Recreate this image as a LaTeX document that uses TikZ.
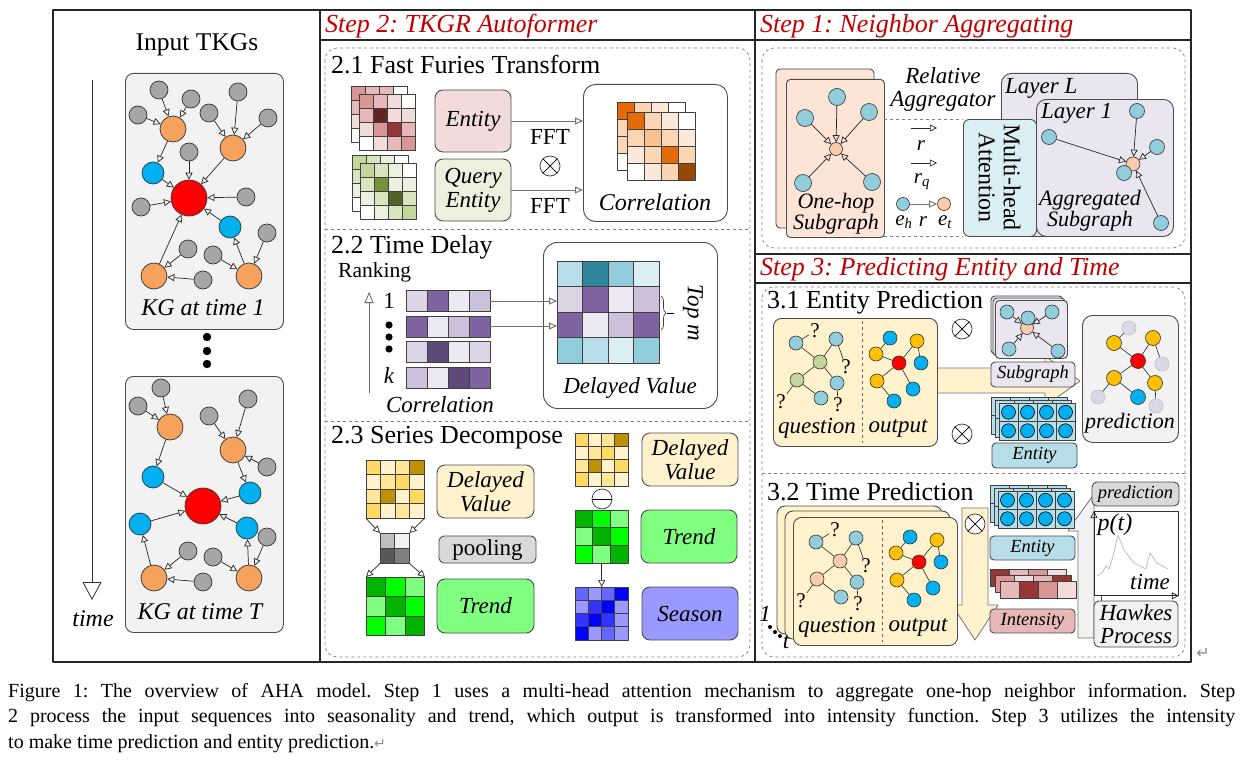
\documentclass[tikz,border=0pt]{standalone}
\usepackage{fontspec}
\setmainfont{Liberation Serif}
\newfontfamily\djv{DejaVu Sans}
\usetikzlibrary{arrows.meta,decorations.pathreplacing,calc}
\frenchspacing
\newcommand\fsz[2]{\fontsize{#1}{#2}\selectfont}
% colours
\definecolor{hdred}{HTML}{C00000}
\definecolor{kgG}{HTML}{A6A6A6}
\definecolor{kgO}{HTML}{F4A25C}
\definecolor{kgB}{HTML}{00B0F0}
\definecolor{kgR}{HTML}{FF0000}
\definecolor{kgBg}{HTML}{F2F2F2}
\definecolor{rA}{HTML}{D99694}\definecolor{rB}{HTML}{E6B8B7}\definecolor{rC}{HTML}{F2DCDB}\definecolor{rD}{HTML}{632523}\definecolor{rE}{HTML}{953734}
\definecolor{gA}{HTML}{C3D69B}\definecolor{gB}{HTML}{D7E4BD}\definecolor{gC}{HTML}{EBF1DE}\definecolor{gD}{HTML}{76923C}\definecolor{gE}{HTML}{4F6228}
\definecolor{oA}{HTML}{E36C09}\definecolor{oB}{HTML}{FCD5B4}\definecolor{oC}{HTML}{FDE9D9}\definecolor{oD}{HTML}{FAC090}\definecolor{oE}{HTML}{974806}
\definecolor{pA}{HTML}{CCC0DA}\definecolor{pB}{HTML}{8064A2}\definecolor{pC}{HTML}{EDE9F3}\definecolor{pD}{HTML}{5F497A}\definecolor{pE}{HTML}{DCD5E6}
\definecolor{tA}{HTML}{B7DEE8}\definecolor{tB}{HTML}{31859C}\definecolor{tC}{HTML}{92CDDC}\definecolor{tD}{HTML}{DAEEF3}
\definecolor{yA}{HTML}{FFD966}\definecolor{yB}{HTML}{FFF2CC}\definecolor{yC}{HTML}{FFE699}\definecolor{yD}{HTML}{BF9000}
\definecolor{nA}{HTML}{00B400}\definecolor{nB}{HTML}{00FF00}\definecolor{nC}{HTML}{80FF80}
\definecolor{sA}{HTML}{6666FF}\definecolor{sB}{HTML}{9999FF}\definecolor{sC}{HTML}{3333FF}\definecolor{sD}{HTML}{0000FF}
\definecolor{kA}{HTML}{BFBFBF}\definecolor{kB}{HTML}{F2F2F2}\definecolor{kC}{HTML}{595959}\definecolor{kD}{HTML}{808080}\definecolor{kE}{HTML}{D9D9D9}
\definecolor{peach}{HTML}{F8CBAD}\definecolor{peachbg}{HTML}{FCE4D6}\definecolor{lav}{HTML}{EAE6F0}
\definecolor{gold}{HTML}{FFC000}\definecolor{lavn}{HTML}{DCD8E8}
% grid of coloured cells
\newcommand\cellgrid[5]{%
  \foreach \rw [count=\ii from 0] in {#5} {%
    \foreach \cc [count=\jj from 0] in \rw {%
      \draw[cellb, fill=\cc] ({#1+\jj*#3},{#2+\ii*#4}) rectangle ++(#3,#4);
    }%
  }%
}
% stacked entity block
\newcommand\entgrid[2]{%
  \cellgrid{#1-8}{#2-6}{19}{18.5}{{tA,tA,tA,tA},{tA,tA,tA,tA}}
  \cellgrid{#1-4}{#2-3}{19}{18.5}{{tA,tA,tA,tA},{tA,tA,tA,tA}}
  \cellgrid{#1}{#2}{19}{18.5}{{tA,tA,tA,tA},{tA,tA,tA,tA}}
  \foreach \ii in {0,1} {\foreach \jj in {0,...,3} {\draw[fill=kgB, line width=0.6pt] ({#1+9.5+\jj*19},{#2+9.25+\ii*18.5}) circle (7pt);}}
}
% circled times
\newcommand\otm[3]{\node[oc] (#1) at (#2,#3) {}; \draw[line width=0.7pt] (#1.north west) -- (#1.south east) (#1.north east) -- (#1.south west);}
% question / output panel
\newcommand\qograph[4]{%
\begin{scope}[shift={(#2,#3)}]
\node[box, fill=yB, anchor=north west, minimum width=164, minimum height=128] (#1box) at (0,0) {};
\draw[dashed, draw=black!60, line width=0.6pt] (89,3) -- (89,125);
\node[sn, fill=tC] (#1a1) at (23,25) {};
\node[sn, fill=tC] (#1a2) at (63,21) {};
\node[sn, fill=#4] (#1c1) at (47,44) {};
\node[sn, fill=#4] (#1c2) at (24,62) {};
\node[sn, fill=tC] (#1a3) at (64,65) {};
\node[sn, fill=tC] (#1a4) at (48,80) {};
\node[qm] (#1q1) at (42,13) {?};
\node[qm] (#1q2) at (73,49) {?};
\node[qm] (#1q3) at (8,84) {?};
\node[qm] (#1q4) at (65,87) {?};
\draw[ln] (#1a1) -- (#1c1) (#1a2) -- (#1c1) (#1c1) -- (#1c2) (#1c1) -- (#1a3) (#1c2) -- (#1a4) (#1a1) -- (#1q1) (#1a2) -- (#1q2) (#1c2) -- (#1q3) (#1a3) -- (#1q4);
\node[sn, fill=kgR] (#1R) at (126,45) {};
\node[sn, fill=kgB] (#1b1) at (117,20) {};
\node[sn, fill=gold] (#1y1) at (103,36) {};
\node[sn, fill=gold] (#1y2) at (144,23) {};
\node[sn, fill=kgB] (#1b2) at (148,45) {};
\node[sn, fill=gold] (#1y3) at (104,63) {};
\node[sn, fill=kgB] (#1b3) at (140,71) {};
\node[sn, fill=kgB] (#1b4) at (121,83) {};
\draw[ln] (#1b1) -- (#1y1) (#1y1) -- (#1R) (#1R) -- (#1y2) (#1y2) -- (#1b2) (#1R) -- (#1y3) (#1y3) -- (#1b4) (#1R) -- (#1b3);
\node[lab] (#1ql) at (44,110) {question};
\node[lab] (#1ol) at (125,110) {output};
\end{scope}}
\begin{document}
\begin{tikzpicture}[x=1pt,y=-1pt, line join=round,
  frame/.style={draw=black!85, line width=1.3pt},
  cellb/.style={draw=black!75, line width=0.8pt},
  ar/.style={-{Triangle[open,length=7pt,width=7pt]}, line width=0.7pt, draw=black!85},
  gar/.style={-{Triangle[open,length=8pt,width=7pt]}, line width=1pt, draw=black!55},
  ln/.style={line width=0.6pt, draw=black!85},
  ngray/.style={circle, draw=black!80, line width=0.7pt, fill=kgG, minimum size=18pt, inner sep=0pt},
  norange/.style={ngray, fill=kgO, minimum size=26pt},
  nblue/.style={ngray, fill=kgB, minimum size=22pt},
  nred/.style={ngray, fill=kgR, minimum size=36pt},
  sn/.style={circle, draw=black!80, line width=0.6pt, minimum size=14pt, inner sep=0pt},
  oc/.style={circle, draw=black!80, fill=white, line width=0.7pt, minimum size=20pt, inner sep=0pt},
  box/.style={draw=black!70, line width=0.9pt, rounded corners=8, inner sep=0pt},
  mat/.style={inner sep=0pt, anchor=north west},
  dsh/.style={draw=black!50, dashed, line width=0.7pt},
  bigar/.style={fill=yB, draw=black!55, line width=0.8pt},
  hdr/.style={font={\fsz{26}{28}\itshape}, text=hdred, inner sep=0pt, anchor=west},
  ttl/.style={font={\fsz{26}{28}}, inner sep=0pt, anchor=west},
  lab/.style={font={\fsz{23}{24}\itshape}, inner sep=1pt, align=center},
  slab/.style={font={\fsz{18.5}{20}\itshape}, inner sep=0pt},
  qm/.style={font={\fsz{21}{22}}, inner sep=1pt}
]
\useasboundingbox (0,0) rectangle (1240,760);
\fill[white] (0,0) rectangle (1240,760);

% ---------------- frame
\draw[frame] (53,10) rectangle (1191,662);
\draw[frame] (320,10) -- (320,662);
\draw[frame] (755,10) -- (755,662);
\draw[frame] (320,40) -- (1191,40);
\draw[frame] (755,254) -- (1191,254);
\draw[frame] (755,283) -- (1191,283);
\node[hdr] (h2) at (325,26) {Step 2: TKGR Autoformer};
\node[hdr] (h1) at (760,26) {Step 1: Neighbor Aggregating};
\node[hdr] (h3) at (760,269) {Step 3: Predicting Entity and Time};

% ---------------- left panel
\node[font=\fsz{25.5}{27}] (inTKG) at (197,45) {Input TKGs};
\coordinate (tTop) at (92,80); \coordinate (tBot) at (92,600);
\draw[line width=0.8pt, draw=black!80, -{Triangle[open,length=18pt,width=19pt]}] (tTop) -- (tBot);
\node[font={\fsz{24}{26}\itshape}] (timeL) at (93,619) {time};
\node[box, fill=kgBg, minimum width=158, minimum height=256, anchor=north west] (kg1box) at (125,73) {};
\node[box, fill=kgBg, minimum width=158, minimum height=256, anchor=north west] (kg2box) at (125,376) {};
\fill (207,337) circle (4.2pt) (207,351) circle (4.2pt) (207,364) circle (4.2pt);

\foreach \nm/\st/\x/\y in {k1g1/ngray/159/90, k1g2/ngray/191/99, k1g3/ngray/138/115, k1O1/norange/173/129,
  k1g4/ngray/238/92, k1g5/ngray/209/113, k1g6/ngray/268/118, k1O2/norange/233/148, k1g7/ngray/189/152,
  k1B1/nblue/153/173, k1R/nred/189/198, k1g8/ngray/246/197, k1g9/ngray/141/207, k1B2/nblue/230/227,
  k1g10/ngray/188/249, k1g11/ngray/213/255, k1g12/ngray/267/233, k1O3/norange/154/276, k1O4/norange/249/276, k1g13/ngray/203/280}
  {\node[\st] (\nm) at (\x,\y) {};}
\foreach \a/\b in {k1g1/k1O1, k1g2/k1O1, k1g3/k1O1, k1O1/k1B1, k1g4/k1O2, k1g5/k1O2, k1g6/k1O2, k1O2/k1R, k1g7/k1R,
  k1B1/k1R, k1g9/k1R, k1g8/k1R, k1B2/k1R, k1O3/k1R, k1g10/k1O3, k1g13/k1O3, k1g12/k1O4, k1g11/k1O4, k1O4/k1B2}
  {\draw[ar] (\a) -- (\b);}
\node[font={\fsz{24}{26}\itshape}] (kg1L) at (203,308) {KG at time 1};

\foreach \nm/\st/\x/\y in {k2g1/ngray/161/388, k2g2/ngray/138/406, k2O1/norange/170/427, k2g3/ngray/248/399,
  k2g4/ngray/209/416, k2O2/norange/233/450, k2g5/ngray/267/467, k2B1/nblue/153/477, k2B2/nblue/250/493,
  k2R/nred/203/506, k2B3/nblue/140/524, k2B4/nblue/247/528, k2g6/ngray/188/551, k2g7/ngray/213/557,
  k2g8/ngray/267/537, k2O3/norange/154/578, k2O4/norange/249/578, k2g9/ngray/203/582}
  {\node[\st] (\nm) at (\x,\y) {};}
\foreach \a/\b in {k2g1/k2O1, k2g2/k2O1, k2O1/k2B1, k2g3/k2O2, k2g4/k2O2, k2g5/k2O2, k2O2/k2B2, k2B1/k2R,
  k2B2/k2R, k2B3/k2R, k2B4/k2R, k2O3/k2B3, k2g6/k2O3, k2g9/k2O3, k2O4/k2B4, k2g8/k2O4, k2g7/k2O4}
  {\draw[ar] (\a) -- (\b);}
\node[font={\fsz{24}{26}\itshape}] (kg2L) at (200,612) {KG at time T};

% ---------------- Step 2
\draw[dsh, rounded corners=12] (325,48) rectangle (750,657);
\draw[dsh] (325,229) -- (750,229);
\draw[dsh] (325,421) -- (750,421);
\node[ttl] (t21) at (331,65) {2.1 Fast Furies Transform};
\node[ttl] (t22) at (331,247) {2.2 Time Delay};
\node[ttl] (t23) at (331,438) {2.3 Series Decompose};

% 2.1
\cellgrid{351}{86}{14}{14}{{rA,rB,rB,white},{rB,rC,rC,rC},{rC,rC,rC,rC},{white,rC,rC,rC}}
\cellgrid{359}{94}{14}{14}{{rA,rB,rC,white},{rB,rD,rC,rC},{rC,rA,rE,rB},{white,rC,rB,rA}}
\cellgrid{352}{155}{14}{14}{{gA,gB,gC,white},{gB,gC,gC,gC},{gC,gC,gC,gC},{white,gC,gC,gC}}
\cellgrid{360}{163}{14}{14}{{gA,gB,gC,white},{gB,gD,gC,gC},{gC,gB,gE,gB},{white,gC,gB,gA}}
\node[box, lab, fill=rC, minimum width=76, minimum height=62] (ent21) at (473,121) {Entity};
\node[box, lab, fill=gC, minimum width=76, minimum height=62] (qent) at (473,190) {Query\\Entity};
\node[box, fill=white, minimum width=144, minimum height=137, anchor=north west, rounded corners=12] (corrbox) at (583,84) {};
\draw[gar] (ent21.east) -- (ent21.east -| corrbox.west);
\draw[gar] (qent.east) -- (qent.east -| corrbox.west);
\node[font=\fsz{23}{25}] (fft1) at (550,137) {FFT};
\node[font=\fsz{23}{25}] (fft2) at (550,206) {FFT};
\otm{ot21}{550}{166}
\cellgrid{617}{102}{17}{17}{{oA,oB,oC,white},{oB,oC,oC,oC},{oB,oC,oC,oC},{white,oC,oC,oC}}
\cellgrid{627}{112}{17}{17}{{oA,oB,oC,white},{oB,oD,oB,oC},{oC,oB,oA,oB},{white,oC,oB,oE}}
\node[lab, font={\fsz{24}{25}\itshape}] (corrL) at (655,202) {Correlation};

% 2.2
\node[font=\fsz{21.5}{23}, anchor=west, inner sep=0pt] (rank) at (338,272) {Ranking};
\coordinate (rkB) at (369,393); \coordinate (rkT) at (369,292);
\draw[line width=0.8pt, draw=black!60, -{Triangle[open,length=11pt,width=9pt]}] (rkB) -- (rkT);
\node[font=\fsz{23}{25}] (r1) at (389,301) {1};
\fill (389,325) circle (3.6pt) (389,337) circle (3.6pt) (389,349) circle (3.6pt);
\node[lab] (rk) at (389,376) {k};
\cellgrid{406}{290}{21}{21}{{pE,pB,pC,pA}}
\cellgrid{406}{316}{21}{21}{{pB,pC,pA,pB}}
\cellgrid{406}{341}{21}{21}{{pE,pD,pC,pE}}
\cellgrid{406}{367}{21}{21}{{pA,pC,pD,pB}}
\node[lab] (corr22) at (440,405) {Correlation};
\node[box, fill=white, minimum width=174, minimum height=166, anchor=north west, rounded corners=14] (dvbox) at (543,242) {};
\cellgrid{557}{261}{25.5}{25.5}{{tA,tB,tC,tD},{pE,pB,pC,pA},{pB,pC,pA,pB},{tC,tA,tD,tC}}
\node[mat, minimum width=102, minimum height=102] (dvm) at (557,261) {};
\coordinate (c1e) at (490,301); \coordinate (c2e) at (490,326);
\draw[gar] (c1e) -- (c1e -| dvm.west);
\draw[gar] (c2e) -- (c2e -| dvm.west);
\coordinate (brT) at (661,296); \coordinate (brB) at (661,330);
\draw[decorate, decoration={brace, amplitude=5pt}, line width=0.7pt, draw=black!75] (brT) -- (brB);
\coordinate (brM) at (667,313); \coordinate (brE) at (674,313);
\draw[line width=0.7pt] (brM) -- (brE);
\node[lab, rotate=-90] (topm) at (693,313) {Top m};
\node[lab] (dvL) at (630,388) {Delayed Value};

% 2.3 left
\cellgrid{366}{460}{14.5}{14.5}{{yA,yB,yC,yD},{yB,yC,yA,yB},{yC,yD,yB,yA},{yA,yB,yC,yB}}
\node[mat, minimum width=58, minimum height=58] (ymL) at (366,460) {};
\cellgrid{380}{533}{14.5}{15}{{kA,kB},{kC,kD}}
\node[mat, minimum width=29, minimum height=30] (plm) at (380,533) {};
\cellgrid{366}{577}{19.5}{19.5}{{nA,nB,nC},{nC,nA,nB},{nB,nC,nA}}
\node[mat, minimum width=58.5, minimum height=58.5] (gmL) at (366,577) {};
\draw[ar] (ymL.south west) -- (plm.north west);
\draw[ar] (ymL.south east) -- (plm.north east);
\draw[ar] (plm.south west) -- (gmL.north west);
\draw[ar] (plm.south east) -- (gmL.north east);
\node[box, lab, fill=yB, minimum width=97, minimum height=53] (dvb1) at (485.5,491.5) {Delayed\\Value};
\node[box, fill=kE, minimum width=97, minimum height=27, font=\fsz{23}{25}, rounded corners=5] (poolb) at (487.5,549.5) {pooling};
\node[box, lab, fill=nC, minimum width=97, minimum height=54] (trb1) at (485.5,606) {Trend};
% 2.3 right
\cellgrid{575}{433}{13.25}{13.25}{{yA,yB,yC,yD},{yB,yC,yA,yB},{yC,yD,yB,yA},{yA,yB,yC,yB}}
\node[oc] (om) at (602,499) {};
\draw[line width=0.7pt] (om.west) -- (om.east);
\cellgrid{575}{510}{17.67}{17.67}{{nA,nB,nC},{nC,nA,nB},{nB,nC,nA}}
\node[mat, minimum width=53, minimum height=53] (gmR) at (575,510) {};
\cellgrid{575}{587}{13.25}{13.25}{{sA,sB,sA,sD},{sB,sC,sD,sB},{sC,sD,sC,sB},{sD,sB,sA,sB}}
\node[mat, minimum width=53, minimum height=53] (smR) at (575,587) {};
\draw[ar] (gmR.south) -- (smR.north);
\node[box, lab, fill=yB, minimum width=96, minimum height=53] (dvb2) at (690,459.5) {Delayed\\Value};
\node[box, lab, fill=nC, minimum width=96, minimum height=53] (trb2) at (689,536.5) {Trend};
\node[box, lab, fill=sB, minimum width=96, minimum height=53] (seasb) at (690,613.5) {Season};

% ---------------- Step 1
\draw[dsh, rounded corners=12] (762,48) rectangle (1185,248);
\draw[box, fill=peachbg, rounded corners=4] (776,69) rectangle (874,228);
\node[box, fill=peachbg, rounded corners=4, anchor=north west, minimum width=98, minimum height=158] (ohbox) at (786,79) {};
\node[sn, fill=peach, minimum size=13pt] (ohc) at (836,149) {};
\node[sn, fill=tC, minimum size=17pt] (oh1) at (837,97) {};
\node[sn, fill=tC, minimum size=17pt] (oh2) at (805,118) {};
\node[sn, fill=tC, minimum size=17pt] (oh3) at (869,112) {};
\node[sn, fill=tC, minimum size=17pt] (oh4) at (803,183) {};
\node[sn, fill=tC, minimum size=17pt] (oh5) at (872,182) {};
\foreach \n in {1,...,5} {\draw[ar] (oh\n) -- (ohc);}
\node[lab, font={\fsz{22}{21}\itshape}] (ohL) at (836,214) {One-hop\\Subgraph};
\node[lab, font={\fsz{23}{23}\itshape}] (relL) at (943,89) {Relative\\Aggregator};
\draw[dsh] (884,119) -- (963,119);
\draw[dsh] (884,236) -- (963,236);
\coordinate (ra1) at (911,128); \coordinate (ra2) at (937,128);
\draw[ar] (ra1) -- (ra2);
\node[lab, font={\fsz{21}{22}\itshape}] (rL) at (921,146) {r};
\coordinate (rq1) at (911,163); \coordinate (rq2) at (937,163);
\draw[ar] (rq1) -- (rq2);
\node[lab, font={\fsz{21}{22}\itshape}] (rqL) at (922,182) {r\textsubscript{q}};
\node[sn, fill=tC, minimum size=13pt] (eh) at (903,204) {};
\node[sn, fill=peach, minimum size=13pt] (et) at (944,204) {};
\draw[gar, line width=0.9pt] (eh) -- (et);
\node[lab, font={\fsz{21}{22}\itshape}] (ehL) at (904,222) {e\textsubscript{h}};
\node[lab, font={\fsz{21}{22}\itshape}] (rL2) at (923,222) {r};
\node[lab, font={\fsz{21}{22}\itshape}] (etL) at (945,222) {e\textsubscript{t}};
\node[box, fill=lav, anchor=north west, minimum width=136, minimum height=163, rounded corners=10] (layL) at (1001,73) {};
\node[lab, anchor=west, inner sep=0pt] (layLL) at (1005,88) {Layer L};
\node[box, fill=lav, anchor=north west, minimum width=137, minimum height=137, rounded corners=10] (lay1) at (1036,99) {};
\node[box, fill=tD, anchor=north west, minimum width=73, minimum height=117, rounded corners=6] (mha) at (963,119) {};
\node[font=\fsz{24}{25}, rotate=-90, align=center] (mhaL) at (999.5,177.5) {Multi-head\\Attention};
\node[lab, anchor=west, inner sep=0pt] (lay1L) at (1041,113) {Layer 1};
\node[sn, fill=peach, minimum size=14pt] (lc) at (1133,164) {};
\node[sn, fill=tC, minimum size=15pt] (l1) at (1137,111) {};
\node[sn, fill=tC, minimum size=15pt] (l2) at (1049,137) {};
\node[sn, fill=tC, minimum size=15pt] (l3) at (1157,147) {};
\node[sn, fill=tC, minimum size=15pt] (l5) at (1161,223) {};
\foreach \n in {1,2,3,5} {\draw[ar] (l\n) -- (lc);}
\node[sn, fill=tC, minimum size=15pt] (l4) at (1124,173) {};
\node[lab, font={\fsz{22}{21}\itshape}] (aggL) at (1090,211) {Aggregated\\Subgraph};

% ---------------- Step 3
\draw[dsh, rounded corners=12] (762,287) rectangle (1185,657);
\draw[dsh] (762,473) -- (1185,473);
\node[ttl] (t31) at (767,302) {3.1 Entity Prediction};
\node[ttl] (t32) at (767,492) {3.2 Time Prediction};

% 3.1
\draw[bigar] (930,368) -- (1045,368) -- (1045,356) -- (1080,381) -- (1045,406) -- (1045,393) -- (930,393) -- cycle;
\qograph{qa}{773}{318}{gA}
\otm{ot31a}{962}{329}
\otm{ot31b}{962}{434}
\foreach \o in {4,2} {\draw[box, fill=lav, rounded corners=4] (995-\o,300-\o) rectangle ++(72,58);}
\node[box, fill=lav, rounded corners=4, anchor=north west, minimum width=72, minimum height=58] (sgbox) at (995,300) {};
\node[sn, fill=peach, minimum size=13pt] (sgc) at (1027,328) {};
\node[sn, fill=tC, minimum size=14pt] (sg1) at (1007,312) {};
\node[sn, fill=tC, minimum size=14pt] (sg3) at (1052,312) {};
\node[sn, fill=tC, minimum size=14pt] (sg4) at (1009,349) {};
\node[sn, fill=tC, minimum size=14pt] (sg5) at (1058,351) {};
\foreach \n in {1,3,4,5} {\draw[ar] (sg\n) -- (sgc);}
\node[sn, fill=tC, minimum size=14pt] (sg2) at (1028,318) {};
\node[box, slab, fill=lav, minimum width=84, minimum height=25, rounded corners=4] (sgL) at (1033,374.5) {Subgraph};
\entgrid{999}{403}
\node[box, slab, fill=tA, minimum width=85, minimum height=25, rounded corners=4] (entL31) at (1034.5,455.5) {Entity};
\node[box, fill=kgBg, anchor=north west, minimum width=96, minimum height=127, rounded corners=10] (predbox) at (1082,315) {};
\node[sn, fill=lavn, draw=black!25, minimum size=14pt] (pp1) at (1129,328) {};
\node[sn, fill=lavn, draw=black!25, minimum size=14pt] (pp2) at (1162,364) {};
\node[sn, fill=lavn, draw=black!25, minimum size=14pt] (pp3) at (1098,397) {};
\node[sn, fill=lavn, draw=black!25, minimum size=14pt] (pp4) at (1156,406) {};
\node[sn, fill=kgR, minimum size=15pt] (pR) at (1138,361) {};
\node[sn, fill=gold, minimum size=15pt] (py1) at (1114,343) {};
\node[sn, fill=gold, minimum size=15pt] (py2) at (1153,338) {};
\node[sn, fill=gold, minimum size=15pt] (py3) at (1114,378) {};
\node[sn, fill=gold, minimum size=15pt] (py4) at (1155,383) {};
\node[sn, fill=kgB, minimum size=15pt] (pb) at (1138,397) {};
\draw[ln] (py1) -- (pp1) (py1) -- (pR) (pR) -- (py2) (py2) -- (pp2) (pR) -- (py3) (py3) -- (pp3) (pR) -- (py4) (py4) -- (pp4) (py3) -- (pb);
\node[lab, font={\fsz{22}{23}\itshape}] (predL31) at (1130,423) {prediction};

% 3.2
\draw[bigar] (962,508) -- (988,508) -- (988,605) -- (998,605) -- (975,640) -- (952,605) -- (962,605) -- cycle;
\draw[box, fill=yB, rounded corners=8] (777,506) rectangle ++(165,128);
\draw[box, fill=yB, rounded corners=8] (785,511) rectangle ++(165,128);
\qograph{qb}{793}{517}{peach}
\otm{ot32}{975}{524}
\node[lab, inner sep=0pt] (one) at (765,614) {1};
\fill (770,627) circle (2pt) (775,632) circle (2pt) (780,636) circle (2pt);
\node[lab, inner sep=0pt] (tlab) at (786,642) {t};
\draw[fill=kgBg, draw=black!55, line width=0.8pt] (1094,638) -- (1078,638) -- (1078,531) -- (1068,531) -- (1073,523) -- (1092,497) -- (1094,506) -- cycle;
\entgrid{998}{491}
\node[box, slab, fill=tA, minimum width=85, minimum height=24, rounded corners=4] (entL32) at (1032.5,548) {Entity};
\cellgrid{990}{569}{19}{17}{{rE,rB,rA,rC}}
\cellgrid{995}{575}{19}{17}{{rA,rC,rB,rE}}
\cellgrid{1000}{581}{19}{17}{{rB,rE,rA,rC}}
\node[box, slab, fill=rB, minimum width=85, minimum height=24, rounded corners=4] (intL) at (1032.5,621) {Intensity};
\node[draw=black!80, fill=white, anchor=north west, minimum width=84, minimum height=84, inner sep=0pt, line width=0.8pt] (plot) at (1094,511) {};
\draw[ar] (plot.south west) -- (plot.north west);
\draw[ar] (plot.south west) -- (plot.south east);
\draw[draw=black!25, line width=0.8pt] (1097,576) -- (1102,573) -- (1106,566) -- (1109,569) -- (1113,556) -- (1118,535) -- (1124,550) -- (1134,563) -- (1146,569) -- (1150,553) -- (1157,563) -- (1168,569);
\node[lab, font={\fsz{24}{25}\itshape}] (ptL) at (1115,525) {p(t)};
\node[lab, font={\fsz{23}{24}\itshape}] (timeP) at (1150,582) {time};
\node[box, fill=kgBg, lab, font={\fsz{23}{23}\itshape}, minimum width=84, minimum height=46, rounded corners=5] (hawk) at (1136,624) {Hawkes\\Process};
\draw[line width=0.7pt, draw=black!70] (hawk.north west) ++(8,0) coordinate (hk1) -- (hk1 |- plot.south);
\node[box, slab, fill=kE, minimum width=87, minimum height=24, rounded corners=5] (predL) at (1135.5,494) {prediction};

\node[font=\djv\fsz{16}{16}, text=black!45] (retm) at (1203,653) {↵};

% ---------------- caption
\node[anchor=west, inner sep=0pt, font=\fsz{20}{22}] (cap1) at (8,693) {\hbox to 1227pt{Figure 1: The overview of AHA model. Step 1 uses a multi-head attention mechanism to aggregate one-hop neighbor information. Step}};
\node[anchor=west, inner sep=0pt, font=\fsz{20}{22}] (cap2) at (8,718) {\hbox to 1227pt{2 process the input sequences into seasonality and trend, which output is transformed into intensity function. Step 3 utilizes the intensity}};
\node[anchor=west, inner sep=0pt, font=\fsz{20}{22}] (cap3) at (8,744) {to make time prediction and entity prediction.{\djv\fsz{14}{14}\color{black!45}↵}};
\end{tikzpicture}
\end{document}
